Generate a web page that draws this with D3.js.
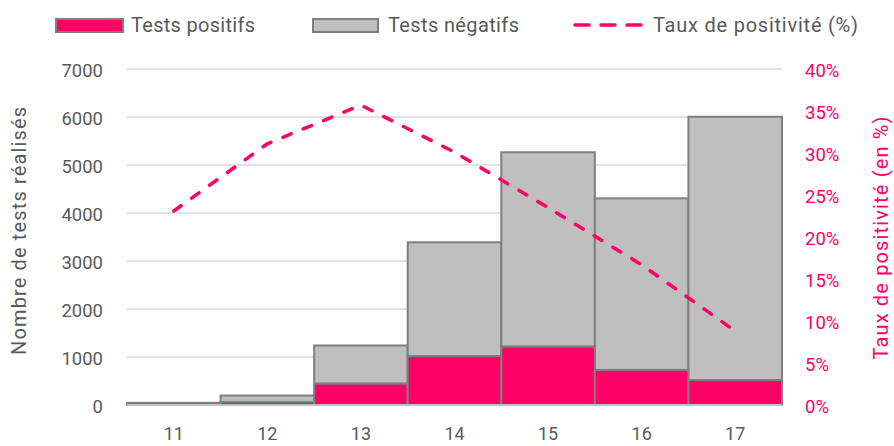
<!DOCTYPE html>
<html>
<head>
<meta charset="utf-8">
<script src="https://cdn.jsdelivr.net/npm/d3@7"></script>
<style>
  body { margin: 0; background: #fff; }
  text { font-family: "Roboto", "Liberation Sans", sans-serif; }
</style>
</head>
<body>
<div id="chart"></div>
<script>
// weekly tests data
var weeks = ["11", "12", "13", "14", "15", "16", "17"];
var positifs = [10, 62, 445, 1020, 1215, 730, 520];
var negatifs = [35, 135, 795, 2370, 4050, 3575, 5485];
var taux = [23.1, 31.1, 35.7, 30.1, 23.5, 16.7, 8.8];
var leftTicks = [0, 1000, 2000, 3000, 4000, 5000, 6000, 7000];
var rightTicks = [0, 5, 10, 15, 20, 25, 30, 35, 40];

var pink = "#ff0066", grey = "#bfbfbf", edge = "#7f7f7f", txt = "#595959";

var W = 894, H = 446;
var margin = {top: 69, right: 112, bottom: 41, left: 127},
    width = W - margin.left - margin.right,
    height = H - margin.top - margin.bottom;

var svg = d3.select("#chart")
  .append("svg")
    .attr("width", W)
    .attr("height", H);

var g = svg.append("g")
    .attr("transform", "translate(" + margin.left + "," + margin.top + ")");

var x = d3.scaleBand()
  .domain(weeks)
  .range([0, width])
  .padding(0);

var y = d3.scaleLinear()
  .domain([0, 7000])
  .range([height, 0]);

var y2 = d3.scaleLinear()
  .domain([0, 40])
  .range([height, 0]);

// grid lines
g.append("g")
  .selectAll("line")
  .data(leftTicks)
  .enter().append("line")
    .attr("x1", 0).attr("x2", width)
    .attr("y1", function(d) { return y(d); })
    .attr("y2", function(d) { return y(d); })
    .attr("stroke", "#d9d9d9")
    .attr("stroke-width", 1.5);

// left axis
var axL = g.append("g")
  .call(d3.axisLeft(y).tickValues(leftTicks).tickSize(0).tickPadding(24)
    .tickFormat(d3.format("d")));
axL.select(".domain").remove();
axL.selectAll("text").attr("fill", txt).style("font-size", "18.5px")
  .attr("dy", "0.4em");

// right axis
var axR = g.append("g")
  .attr("transform", "translate(" + width + ",0)")
  .call(d3.axisRight(y2).tickValues(rightTicks).tickSize(0).tickPadding(23)
    .tickFormat(function(d) { return d + "%"; }));
axR.select(".domain").remove();
axR.selectAll("text").attr("fill", pink).style("font-size", "18.5px")
  .attr("dy", "0.4em");

// bottom axis
var axB = g.append("g")
  .attr("transform", "translate(0," + height + ")")
  .call(d3.axisBottom(x).tickSize(0).tickPadding(22));
axB.select(".domain").remove();
axB.selectAll("text").attr("fill", txt).style("font-size", "18px");

// stacked bars
var rows = weeks.map(function(w, i) {
  return {week: w, pos: positifs[i], neg: negatifs[i]};
});

g.append("g").selectAll("rect")
  .data(rows)
  .enter().append("rect")
    .attr("x", function(d) { return x(d.week); })
    .attr("y", function(d) { return y(d.pos + d.neg); })
    .attr("width", x.bandwidth())
    .attr("height", function(d) { return y(d.pos) - y(d.pos + d.neg); })
    .attr("fill", grey)
    .attr("stroke", edge)
    .attr("stroke-width", 2);

g.append("g").selectAll("rect")
  .data(rows)
  .enter().append("rect")
    .attr("x", function(d) { return x(d.week); })
    .attr("y", function(d) { return y(d.pos); })
    .attr("width", x.bandwidth())
    .attr("height", function(d) { return height - y(d.pos); })
    .attr("fill", pink)
    .attr("stroke", edge)
    .attr("stroke-width", 2);

// baseline
g.append("line")
  .attr("x1", 0).attr("x2", width)
  .attr("y1", height).attr("y2", height)
  .attr("stroke", "#d9d9d9")
  .attr("stroke-width", 1.5);

// positivity line
var line = d3.line()
  .x(function(d, i) { return x(weeks[i]) + x.bandwidth() / 2; })
  .y(function(d) { return y2(d); });

g.append("path")
  .datum(taux)
  .attr("d", line)
  .attr("fill", "none")
  .attr("stroke", pink)
  .attr("stroke-width", 3.5)
  .attr("stroke-dasharray", "9,13")
  .attr("stroke-linecap", "round");

// axis titles
svg.append("text")
  .attr("transform", "translate(26,231) rotate(-90)")
  .attr("text-anchor", "middle")
  .attr("fill", txt)
  .style("font-size", "20px")
  .attr("textLength", 248)
  .attr("lengthAdjust", "spacing")
  .text("Nombre de tests réalisés");

svg.append("text")
  .attr("transform", "translate(888,238) rotate(-90)")
  .attr("text-anchor", "middle")
  .attr("fill", pink)
  .style("font-size", "20px")
  .attr("textLength", 243)
  .attr("lengthAdjust", "spacing")
  .text("Taux de positivité (en %)");

// legend
var leg = svg.append("g");
leg.append("rect").attr("x", 56).attr("y", 19).attr("width", 67).attr("height", 13)
  .attr("fill", pink).attr("stroke", edge).attr("stroke-width", 2);
leg.append("text").attr("x", 131).attr("y", 32).attr("fill", txt)
  .style("font-size", "20px").attr("textLength", 124).text("Tests positifs");
leg.append("rect").attr("x", 313).attr("y", 19).attr("width", 65).attr("height", 13)
  .attr("fill", grey).attr("stroke", edge).attr("stroke-width", 2);
leg.append("text").attr("x", 388).attr("y", 32).attr("fill", txt)
  .style("font-size", "20px").attr("textLength", 131).text("Tests négatifs");
leg.append("line").attr("x1", 575).attr("x2", 643).attr("y1", 25).attr("y2", 25)
  .attr("stroke", pink).attr("stroke-width", 3.5)
  .attr("stroke-dasharray", "14,12").attr("stroke-linecap", "round");
leg.append("text").attr("x", 653).attr("y", 32).attr("fill", txt)
  .style("font-size", "20px").attr("textLength", 205).text("Taux de positivité (%)");
</script>
</body>
</html>
